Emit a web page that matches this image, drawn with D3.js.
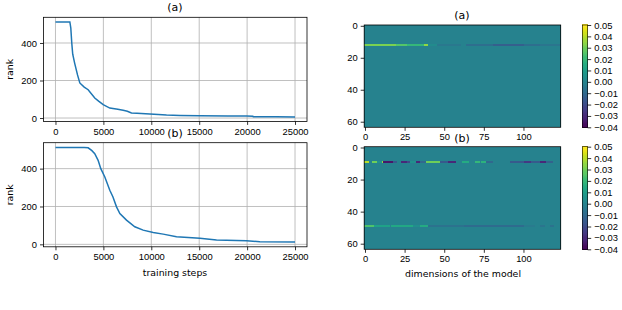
<!DOCTYPE html>
<html>
<head>
<meta charset="utf-8">
<script src="https://cdn.jsdelivr.net/npm/d3@7"></script>
<style>
  body { margin: 0; background: #fff; }
  svg { display: block; font-family: "DejaVu Sans", sans-serif; }
  .tick text { font-size: 9.4px; fill: #000; }
  .domain { stroke: #000; stroke-width: 0.8; }
  .tick line { stroke: #000; stroke-width: 0.8; }
</style>
</head>
<body>
<div id="chart"></div>
<script>
// rank curves (training step, rank)
const stepsA = [0, 1500, 1600, 1700, 1800, 2000, 2300, 2540, 3000, 3410, 4100, 4500, 4980, 5670, 6500, 7060, 7500, 7930, 8500, 9850, 11590, 13000, 15070, 18000, 19940, 20600, 20640, 23000, 25000];
const rankA  = [512, 512, 480, 400, 340, 293, 230, 187, 165, 151, 107, 90, 71, 53, 47, 41, 36, 27, 25, 21, 16, 14, 12, 11, 11, 10, 7, 7, 6];
const stepsB = [0, 3000, 3410, 3800, 4100, 4450, 4730, 5150, 5670, 6000, 6370, 6720, 7410, 8280, 9150, 10200, 11240, 12630, 15070, 16810, 19940, 21330, 25000];
const rankB  = [512, 512, 510, 495, 479, 444, 400, 356, 286, 250, 198, 163, 128, 93, 75, 63, 54, 40, 32, 23, 19, 14, 12];

const xTicks = [0, 5000, 10000, 15000, 20000, 25000];
const yTicks = [0, 200, 400];

// heatmaps: 64 rows x 124 dims, zero except for a few rows
const nRows = 64, nCols = 124;
// [row, firstCol, lastCol, value]
const segmentsA = [
  [12, 0, 19, 0.032], [12, 20, 26, 0.026], [12, 27, 37, 0.02], [12, 38, 39, 0.035],
  [12, 40, 45, 0.003], [12, 46, 60, -0.004], [12, 64, 80, -0.008], [12, 81, 100, -0.013],
  [12, 101, 110, -0.008], [12, 111, 123, -0.005]
];
const segmentsB = [
  [9, 0, 2, 0.04], [9, 5, 7, 0.03], [9, 8, 10, 0.005], [9, 11, 11, 0.035], [9, 12, 17, -0.035],
  [9, 18, 20, -0.015], [9, 23, 26, -0.03], [9, 27, 28, -0.02], [9, 29, 32, 0.005], [9, 33, 34, -0.03],
  [9, 35, 38, -0.01], [9, 39, 47, 0.03], [9, 48, 52, -0.015], [9, 53, 57, -0.03], [9, 62, 65, 0.015],
  [9, 70, 72, 0.02], [9, 74, 76, 0.018], [9, 77, 80, -0.01], [9, 92, 100, -0.015], [9, 101, 104, -0.025],
  [9, 105, 110, -0.015], [9, 111, 114, -0.03], [9, 115, 118, -0.012],
  [49, 0, 5, 0.025], [49, 6, 15, 0.012], [49, 17, 30, 0.014], [49, 31, 34, 0.004], [49, 35, 39, 0.015],
  [49, 40, 62, -0.006], [49, 63, 100, -0.009], [49, 101, 107, -0.003], [49, 111, 113, -0.005],
  [49, 117, 119, -0.006]
];
const hmXTicks = [0, 25, 50, 75, 100];
const hmYTicks = [0, 20, 40, 60];
const cbTicks = [-0.04, -0.03, -0.02, -0.01, 0, 0.01, 0.02, 0.03, 0.04, 0.05];

const width = 622, height = 310;
const svg = d3.select("#chart").append("svg")
  .attr("width", width).attr("height", height);

const color = d3.scaleSequential(d3.interpolateViridis).domain([-0.04, 0.05]);

function linePanel(top, bottom, steps, ranks, yMin, title, titleY, showXLabel) {
  const x = d3.scaleLinear().domain([-1250, 26250]).range([43.5, 307]);
  const y = d3.scaleLinear().domain([yMin, 537]).range([bottom, top]);
  const g = svg.append("g");

  // grid
  g.selectAll(".vg").data(xTicks).join("line")
    .attr("x1", d => x(d)).attr("x2", d => x(d)).attr("y1", top).attr("y2", bottom)
    .attr("stroke", "#b0b0b0").attr("stroke-width", 0.8);
  g.selectAll(".hg").data(yTicks).join("line")
    .attr("x1", 43.5).attr("x2", 307).attr("y1", d => y(d)).attr("y2", d => y(d))
    .attr("stroke", "#b0b0b0").attr("stroke-width", 0.8);

  const pts = steps.map((s, i) => [s, ranks[i]]);
  g.append("path").datum(pts)
    .attr("fill", "none").attr("stroke", "#1f77b4").attr("stroke-width", 1.5)
    .attr("d", d3.line().x(d => x(d[0])).y(d => y(d[1])));

  g.append("rect").attr("x", 43.5).attr("y", top).attr("width", 307 - 43.5).attr("height", bottom - top)
    .attr("fill", "none").attr("stroke", "#000").attr("stroke-width", 0.8);

  g.append("g").attr("transform", `translate(0,${bottom})`)
    .call(d3.axisBottom(x).tickValues(xTicks).tickFormat(d3.format("d")).tickSize(3.5).tickPadding(3))
    .call(a => a.select(".domain").remove());
  g.append("g").attr("transform", "translate(43.5,0)")
    .call(d3.axisLeft(y).tickValues(yTicks).tickSize(3.5).tickPadding(3))
    .call(a => a.select(".domain").remove());

  g.append("text").attr("transform", `translate(13,${(top + bottom) / 2}) rotate(-90)`)
    .attr("text-anchor", "middle").attr("font-size", 9.4).text("rank");
  g.append("text").attr("x", 175).attr("y", titleY).attr("text-anchor", "middle")
    .attr("font-size", 11).text(title);
  if (showXLabel) {
    g.append("text").attr("x", 175).attr("y", bottom + 29).attr("text-anchor", "middle")
      .attr("font-size", 9.4).text("training steps");
  }
}

function heatPanel(top, bottom, segments, title, titleY, showXLabel) {
  const left = 364.2, right = 560.7;
  const x = d3.scaleLinear().domain([-0.5, nCols - 0.5]).range([left, right]);
  const y = d3.scaleLinear().domain([-0.5, nRows - 0.5]).range([top, bottom]);

  const grid = [];
  for (let r = 0; r < nRows; r++) for (let c = 0; c < nCols; c++) grid.push({ r, c, v: 0 });
  segments.forEach(([r, c0, c1, v]) => {
    for (let c = c0; c <= c1; c++) grid[r * nCols + c].v = v;
  });

  const g = svg.append("g");
  g.append("g").attr("shape-rendering", "crispEdges")
    .selectAll("rect").data(grid).join("rect")
    .attr("x", d => x(d.c - 0.5)).attr("y", d => y(d.r - 0.5))
    .attr("width", x(1) - x(0) + 0.05).attr("height", y(1) - y(0) + 0.05)
    .attr("fill", d => color(d.v));
  g.append("rect").attr("x", left).attr("y", top).attr("width", right - left).attr("height", bottom - top)
    .attr("fill", "none").attr("stroke", "#000").attr("stroke-width", 0.8);

  g.append("g").attr("transform", `translate(0,${bottom})`)
    .call(d3.axisBottom(x).tickValues(hmXTicks).tickSize(3.5).tickPadding(3))
    .call(a => a.select(".domain").remove());
  g.append("g").attr("transform", `translate(${left},0)`)
    .call(d3.axisLeft(y).tickValues(hmYTicks).tickSize(3.5).tickPadding(3))
    .call(a => a.select(".domain").remove());

  g.append("text").attr("x", 462).attr("y", titleY).attr("text-anchor", "middle")
    .attr("font-size", 11).text(title);
  if (showXLabel) {
    g.append("text").attr("x", 463).attr("y", bottom + 28).attr("text-anchor", "middle")
      .attr("font-size", 9.4).text("dimensions of the model");
  }

  // colorbar
  const cb = d3.scaleLinear().domain([-0.04, 0.05]).range([bottom, top]);
  const steps = d3.range(0, 91).map(i => -0.04 + i * 0.001);
  g.append("g").attr("shape-rendering", "crispEdges")
    .selectAll("rect").data(steps).join("rect")
    .attr("x", 582.3).attr("width", 5.4)
    .attr("y", d => cb(d + 0.001)).attr("height", d => cb(d) - cb(d + 0.001) + 0.6)
    .attr("fill", d => color(d + 0.0005));
  g.append("rect").attr("x", 582.3).attr("y", top).attr("width", 5.4).attr("height", bottom - top)
    .attr("fill", "none").attr("stroke", "#000").attr("stroke-width", 0.6);
  g.append("g").attr("transform", "translate(587.7,0)")
    .call(d3.axisRight(cb).tickValues(cbTicks).tickFormat(d3.format(".2f")).tickSize(3.5).tickPadding(3))
    .call(a => a.select(".domain").remove());
}

linePanel(17.3, 121.4, stepsA, rankA, -18, "(a)", 10.5, false);
linePanel(142.7, 246.8, stepsB, rankB, -13, "(b)", 137, true);
heatPanel(25, 127.3, segmentsA, "(a)", 18.5, false);
heatPanel(146.7, 249.3, segmentsB, "(b)", 141.5, true);
</script>
</body>
</html>
